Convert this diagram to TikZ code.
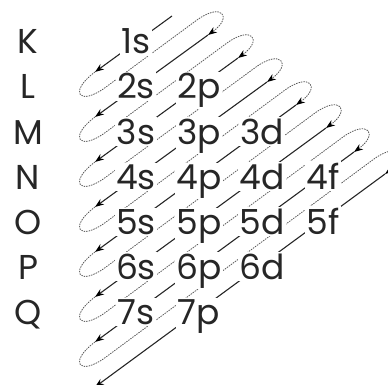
\documentclass[tikz,border=0pt]{standalone}
\usepackage{fontspec}
\setmainfont{Poppins}
\usetikzlibrary{calc,arrows.meta}

\begin{document}
\begin{tikzpicture}[x=1pt, y=-1pt]
    % Styles for labels and lines
    \tikzstyle{shell} = [anchor=base, inner sep=0pt, font=\fontsize{34.5}{40}\selectfont, text=black!85]
    \tikzstyle{orb} = [shell, fill=white, inner sep=1.5pt]
    \tikzstyle{fwd} = [line width=1.1pt, black!85, -{Stealth[length=9pt, width=6.5pt, black]}]
    \tikzstyle{ret} = [line width=0.8pt, black!65, dash pattern=on 1.5pt off 1pt, -{Stealth[length=9pt, width=6.5pt, black]}]

    \clip (0,0) rectangle (388,385);

  % Upper and lower ends of the diagonals
    \coordinate (T1) at (172,16);
    \coordinate (T2) at (208,35);
    \coordinate (T3) at (238,58);
    \coordinate (T4) at (267,82);
    \coordinate (T5) at (296,105);
    \coordinate (T6) at (326,128);
    \coordinate (T7) at (354,152);
    \coordinate (T8) at (385,174);
    \coordinate (B1) at (95,72);
    \coordinate (B2) at (95,117);
    \coordinate (B3) at (95,162);
    \coordinate (B4) at (95,207);
    \coordinate (B5) at (95,252);
    \coordinate (B6) at (95,297);
    \coordinate (B7) at (95,342);
    \coordinate (B8) at (95,387);

  % Return loops
    \draw[ret] (B1) .. controls +(-27,20) and +(-27,20) .. ($(B1)+(11,15)$) -- ($(T2)-(11,15)$) .. controls +(25,-18) and +(25,-18) .. (T2);
    \draw[ret] (B2) .. controls +(-27,20) and +(-27,20) .. ($(B2)+(11,15)$) -- ($(T3)-(11,15)$) .. controls +(25,-18) and +(25,-18) .. (T3);
    \draw[ret] (B3) .. controls +(-27,20) and +(-27,20) .. ($(B3)+(11,15)$) -- ($(T4)-(11,15)$) .. controls +(25,-18) and +(25,-18) .. (T4);
    \draw[ret] (B4) .. controls +(-27,20) and +(-27,20) .. ($(B4)+(11,15)$) -- ($(T5)-(11,15)$) .. controls +(25,-18) and +(25,-18) .. (T5);
    \draw[ret] (B5) .. controls +(-27,20) and +(-27,20) .. ($(B5)+(11,15)$) -- ($(T6)-(11,15)$) .. controls +(25,-18) and +(25,-18) .. (T6);
    \draw[ret] (B6) .. controls +(-27,20) and +(-27,20) .. ($(B6)+(11,15)$) -- ($(T7)-(11,15)$) .. controls +(25,-18) and +(25,-18) .. (T7);
    \draw[ret] (B7) .. controls +(-27,20) and +(-27,20) .. ($(B7)+(11,15)$) -- ($(T8)-(11,15)$) .. controls +(25,-18) and +(25,-18) .. (T8);

  % Diagonals
    \draw[fwd] (T1) -- (B1);
    \draw[fwd] (T2) -- (B2);
    \draw[fwd] (T3) -- (B3);
    \draw[fwd] (T4) -- (B4);
    \draw[fwd] (T5) -- (B5);
    \draw[fwd] (T6) -- (B6);
    \draw[fwd] (T7) -- (B7);
    \draw[fwd] (T8) -- (B8);

  % Shells
    \node[shell] (K) at (28,54) {K};
    \node[shell] (L) at (28,99) {L};
    \node[shell] (M) at (28,144) {M};
    \node[shell] (N) at (28,189) {N};
    \node[shell] (O) at (28,234) {O};
    \node[shell] (P) at (28,279) {P};
    \node[shell] (Q) at (28,324) {Q};

  % Orbitals
    \node[orb] (o1s) at (136,54) {1s};
    \node[orb] (o2s) at (136,99) {2s};
    \node[orb] (o2p) at (199,99) {2p};
    \node[orb] (o3s) at (136,144) {3s};
    \node[orb] (o3p) at (199,144) {3p};
    \node[orb] (o3d) at (262,144) {3d};
    \node[orb] (o4s) at (136,189) {4s};
    \node[orb] (o4p) at (199,189) {4p};
    \node[orb] (o4d) at (262,189) {4d};
    \node[orb] (o4f) at (323,189) {4f};
    \node[orb] (o5s) at (136,234) {5s};
    \node[orb] (o5p) at (199,234) {5p};
    \node[orb] (o5d) at (262,234) {5d};
    \node[orb] (o5f) at (323,234) {5f};
    \node[orb] (o6s) at (136,279) {6s};
    \node[orb] (o6p) at (199,279) {6p};
    \node[orb] (o6d) at (262,279) {6d};
    \node[orb] (o7s) at (136,324) {7s};
    \node[orb] (o7p) at (199,324) {7p};
\end{tikzpicture}
\end{document}
